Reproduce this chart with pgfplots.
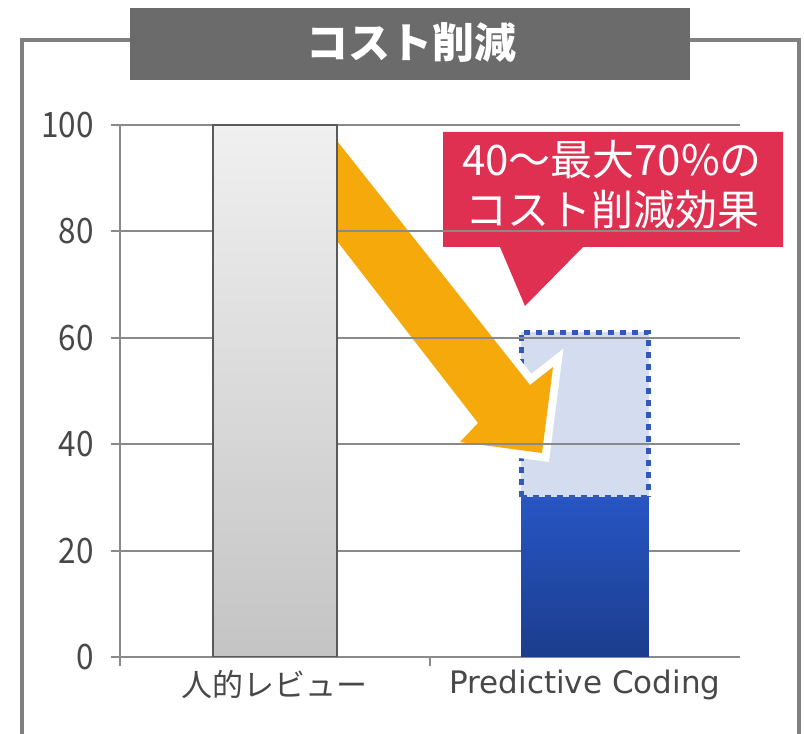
\documentclass[border=0pt]{standalone}
\usepackage{fontspec}
\usepackage{pgfplots}
\pgfplotsset{compat=1.18}
\setmainfont{Noto Sans CJK JP}
\newfontfamily\dvs{DejaVu Sans}

\definecolor{gridgray}{RGB}{138,138,138}
\definecolor{framegray}{RGB}{128,128,128}
\definecolor{titlegray}{RGB}{107,107,107}
\definecolor{labelgray}{RGB}{72,72,72}
\definecolor{bardark}{RGB}{90,90,90}
\definecolor{graytop}{RGB}{240,240,240}
\definecolor{graybot}{RGB}{196,196,196}
\definecolor{bluetop}{RGB}{39,85,196}
\definecolor{bluebot}{RGB}{27,61,140}
\definecolor{lightblue}{RGB}{212,221,239}
\definecolor{dotblue}{RGB}{50,88,184}
\definecolor{arroworange}{RGB}{245,169,10}
\definecolor{calloutred}{RGB}{224,48,82}

\pgfplotsset{
  commonaxis/.style={
    width=310pt, height=266pt, scale only axis,
    at={(0,0)}, anchor=south west,
    xmin=-0.5, xmax=1.5, ymin=0, ymax=100,
  },
  dotted edge/.style={draw=dotblue, line width=2.5pt, dash pattern=on 3pt off 3pt},
}

\begin{document}
\begin{tikzpicture}
% pixel frame: 1px = 0.5pt, origin at top left of the picture
\begin{scope}[x=0.5pt, y=-0.5pt, shift={(-60pt,328.5pt)}]
  \useasboundingbox (0,0) rectangle (804,734);
  \draw[framegray, line width=2pt] (22,745) -- (22,40) -- (799,40) -- (799,745);
  \fill[titlegray] (130,8) rectangle (690,80);
  \node[text=white, font=\bfseries\fontsize{21}{25}\selectfont] at (411,43) {コスト削減};
\end{scope}

% back layer: range of the 40-70% reduction
\begin{axis}[commonaxis, hide axis]
  \addplot[fill=lightblue, dotted edge]
    coordinates {(0.794,30) (0.794,61) (1.206,61) (1.206,30)};
\end{axis}

% arrow and callout
\begin{scope}[x=0.5pt, y=-0.5pt, shift={(-60pt,328.5pt)}]
  \def\arrowpath{(330,132) -- (530,385) -- (553,367) -- (542,453) -- (460,442) -- (478,423) -- (330,232) -- cycle}
  \fill[black, opacity=0.10, xshift=1.5pt, yshift=-1.5pt] \arrowpath;
  \draw[white, line width=8pt, line join=miter, miter limit=3] \arrowpath;
  \fill[arroworange] \arrowpath;

  \def\calloutpath{(443,132) -- (783,132) -- (783,247) -- (583,247) -- (525,306) -- (500,247) -- (443,247) -- cycle}
  \fill[black, opacity=0.10, xshift=1.5pt, yshift=-1.5pt] \calloutpath;
  \draw[white, line width=7pt, line join=round] \calloutpath;
  \fill[calloutred] \calloutpath;
  \node[text=white, align=center, font=\fontsize{21}{25}\selectfont] at (612,185)
    {40～最大70\%の\\コスト削減効果};
\end{scope}

% main axis
\begin{axis}[commonaxis,
  axis lines=left,
  axis line style={-, draw=gridgray, line width=1pt},
  ytick={0,20,40,60,80,100},
  ymajorgrids,
  grid style={draw=gridgray, line width=1pt},
  tick style={draw=gridgray, line width=1pt},
  tick align=outside,
  major tick length=4.5pt,
  xtick={-0.5,0.5},
  xticklabels={},
  extra x ticks={0,1},
  extra x tick labels={人的レビュー,{\dvs Predictive Coding}},
  extra x tick style={major tick length=0pt, grid=none},
  x tick label style={font=\fontsize{15.5}{16}\selectfont, text=labelgray, yshift=-3pt},
  y tick label style={font=\fontsize{17.5}{18}\selectfont, text=labelgray, xscale=0.9, xshift=-6pt},
  /pgf/number format/assume math mode=true,
]
  \addplot[ybar, bar width=0.397, bar shift=0pt, draw=bardark, line width=1pt,
    top color=graytop, bottom color=graybot]
    coordinates {(0,100)};
  \addplot[ybar, bar width=0.412, bar shift=0pt, draw=none,
    top color=bluetop, bottom color=bluebot]
    coordinates {(1,30)};
  \addplot[dotted edge] coordinates {(0.794,30) (1.206,30)};
\end{axis}
\end{tikzpicture}
\end{document}
